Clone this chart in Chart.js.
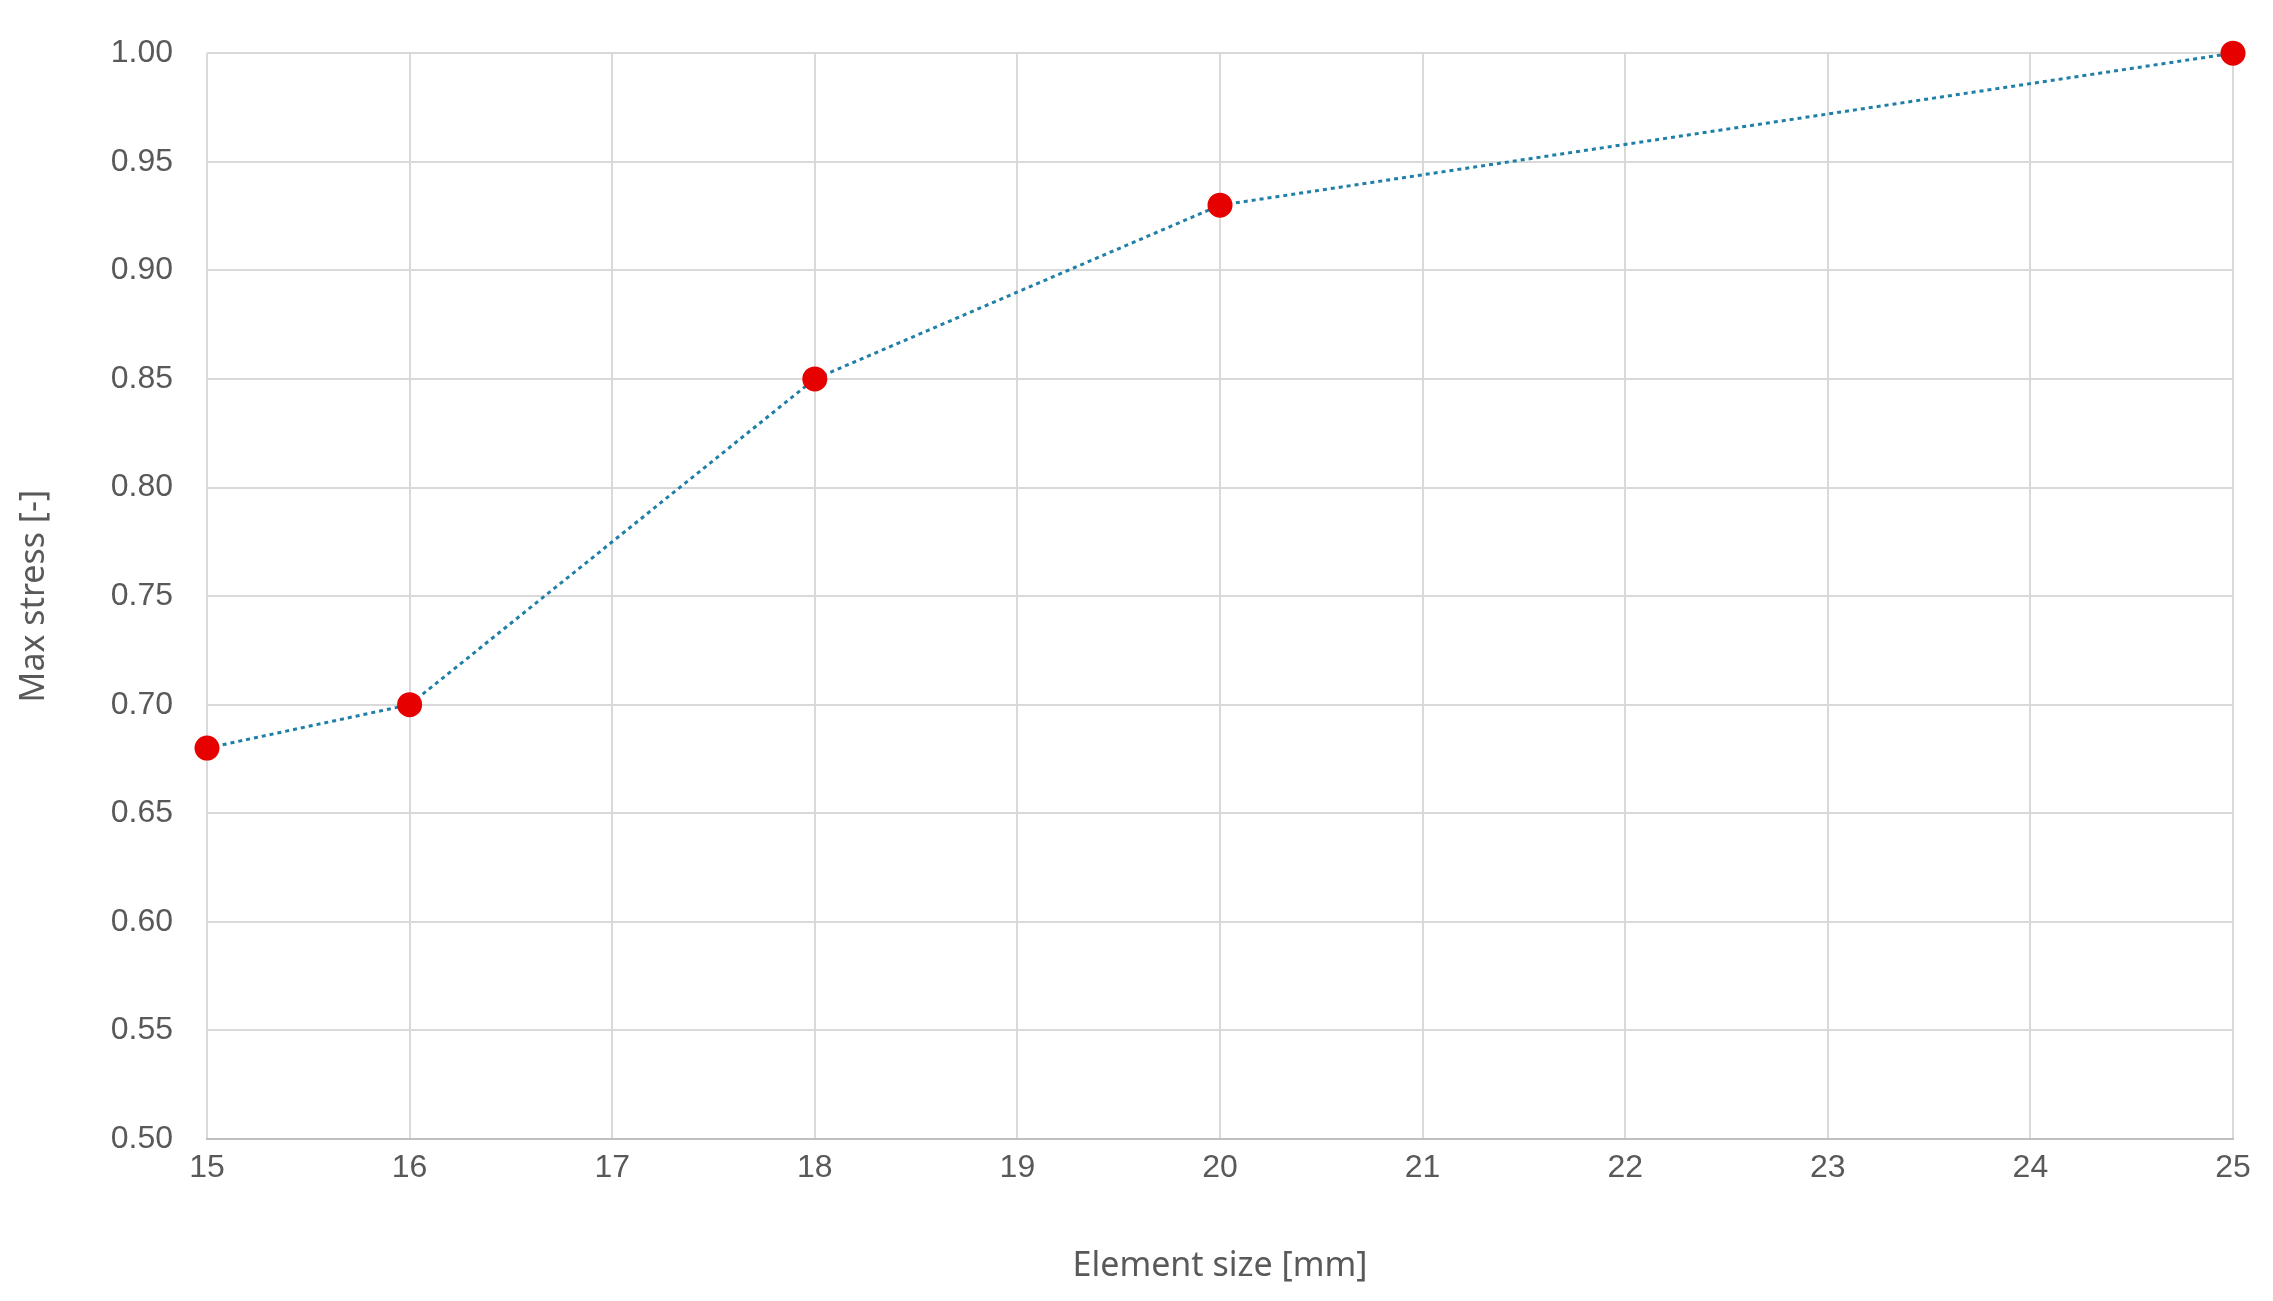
<!DOCTYPE html>
<html>
<head>
<meta charset="utf-8">
<script src="https://cdn.jsdelivr.net/npm/chart.js@4/dist/chart.umd.min.js"></script>
<style>
html, body { margin: 0; background: #fff; }
#wrap { width: 2273px; height: 1301px; }
</style>
</head>
<body>
<div id="wrap"><canvas id="c"></canvas></div>
<script>
// Max stress vs element size
const elementSize = [15, 16, 18, 20, 25];
const maxStress = [0.68, 0.70, 0.85, 0.93, 1.00];
const xTitle = 'Element size [mm]';
const yTitle = 'Max stress [-]';

const TEXT = '#595959';
const GRID = '#d9d9d9';

new Chart(document.getElementById('c'), {
	type: 'line',
	data: {
		datasets: [{
			data: elementSize.map((x, i) => ({ x, y: maxStress[i] })),
			borderColor: '#1f7fa6',
			borderWidth: 3,
			borderDash: [4, 4],
			pointBackgroundColor: '#e60000',
			pointBorderColor: '#e60000',
			pointRadius: 11,
			tension: 0,
			clip: false,
		}],
	},
	options: {
		responsive: true,
		maintainAspectRatio: false,
		animation: false,
		layout: { padding: { top: 4, right: 40, left: 10, bottom: 10 } },
		plugins: { legend: { display: false }, tooltip: { enabled: false } },
		scales: {
			x: {
				type: 'linear', min: 15, max: 25,
				ticks: { stepSize: 1, color: TEXT, font: { family: 'Liberation Sans', size: 32 }, padding: 10 },
				grid: { color: GRID, lineWidth: 2, drawTicks: false },
				border: { color: '#bfbfbf', width: 2 },
				title: { display: true, text: xTitle, color: TEXT, font: { family: 'Noto Sans', size: 34 }, padding: { top: 26 } },
				afterFit(s) { s.height = 152; },
			},
			y: {
				min: 0.5, max: 1.0,
				ticks: { stepSize: 0.05, color: TEXT, font: { family: 'Liberation Sans', size: 32 }, padding: 34,
					callback(v) { return v.toFixed(2); } },
				grid: { color: GRID, lineWidth: 2, drawTicks: false },
				border: { display: false },
				title: { display: true, text: yTitle, color: TEXT, font: { family: 'Noto Sans', size: 34 } },
				afterFit(s) { s.width = 197; },
			},
		},
	},
});
</script>
</body>
</html>
